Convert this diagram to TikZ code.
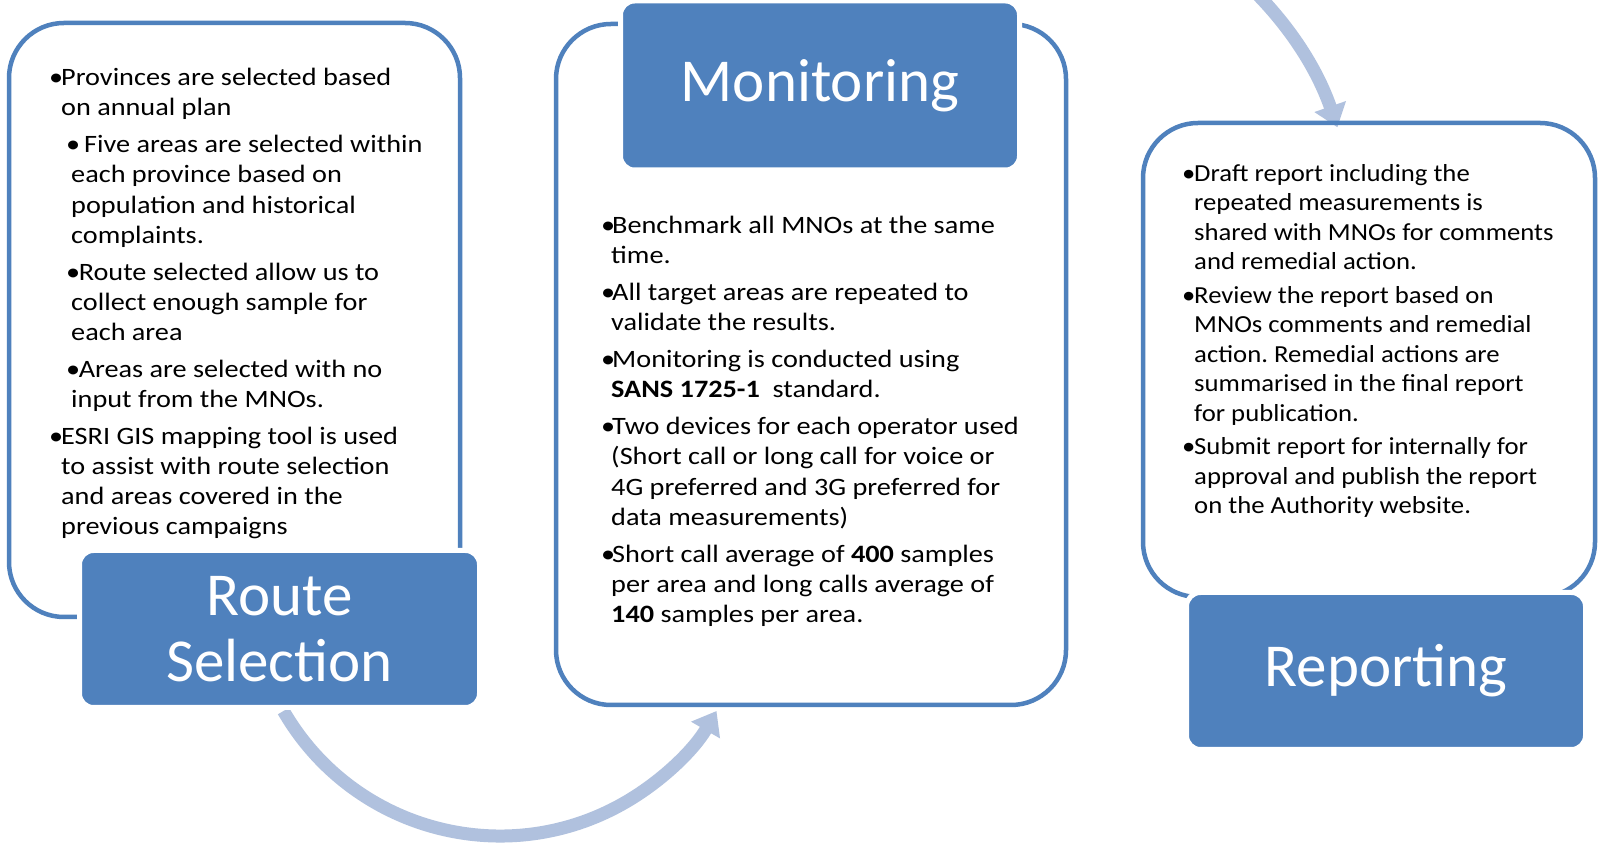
\documentclass[tikz,border=0pt]{standalone}
\usepackage{fontspec}
\setmainfont{Carlito}
\newfontfamily\bodyfont{Carlito}[FakeStretch=1.13]
\newfontfamily\rbodyfont{Carlito}[FakeStretch=1.09]
\usetikzlibrary{arrows.meta}
\definecolor{ablue}{RGB}{79,129,189}
\definecolor{arcblue}{RGB}{176,193,222}
\newcommand\bul[1]{\makebox[#1][l]{•}}
\frenchspacing
\begin{document}
\begin{tikzpicture}[x=1pt,y=1pt,
  outline/.style={draw=ablue, line width=4.5pt, rounded corners=55pt},
  head/.style={fill=ablue, draw=white, line width=5pt, rounded corners=14pt,
    text=white, font=\fontsize{61}{66}\selectfont, align=center},
  body/.style={anchor=base west, inner sep=0pt, font=\bodyfont\fontsize{25}{30.2}\selectfont},
  flow/.style={draw=arcblue, line width=13pt, -{Triangle[width=32pt,length=22pt]}}
]
\useasboundingbox (0,0) rectangle (1600,843);
\clip (0,0) rectangle (1600,843);
\fill[white] (0,0) rectangle (1600,843);

% connector arcs
\coordinate (c1) at (500,257);
\coordinate (c2) at (988,594);
\draw[flow] ([shift={(210:250)}]c1) arc[start angle=210,end angle=330,radius=250];
\draw[flow] ([shift={(62:370)}]c2) arc[start angle=62,end angle=19.2,radius=370];

% white outline boxes
\node[outline, minimum width=451pt, minimum height=594pt] (rsbox) at (234.5,523) {};
\node[outline, minimum width=510pt, minimum height=681pt] (mobox) at (811,478.5) {};
\node[outline, minimum width=452pt, minimum height=474pt] (rpbox) at (1369,483) {};

% blue heading boxes
\node[head, minimum width=400pt, minimum height=157pt] (rs) at (279.5,214) {Route\\Selection};
\node[head, minimum width=399pt, minimum height=169pt] (mo) at (820,757.5) {Monitoring};
\node[head, minimum width=399pt, minimum height=157pt] (rp) at (1386,172) {Reporting};

% body texts
\node[body] (rstext) at (49,757.3) {\begin{minipage}[t]{450pt}\parindent=0pt\parskip=6.6pt
{\hangindent=12pt\hangafter=1\noindent\bul{12pt}Provinces are selected based\\on annual plan\par}
{\hangindent=22pt\hangafter=1\noindent\hspace*{17pt}\bul{18pt}Five areas are selected within\\each province based on\\population and historical\\complaints.\par}
{\hangindent=22pt\hangafter=1\noindent\hspace*{17pt}\bul{12.6pt}Route selected allow us to\\collect enough sample for\\each area\par}
{\hangindent=22pt\hangafter=1\noindent\hspace*{17pt}\bul{12.6pt}Areas are selected with no\\input from the MNOs.\par}
{\hangindent=12pt\hangafter=1\noindent\bul{12pt}ESRI GIS mapping tool is used\\to assist with route selection\\and areas covered in the\\previous campaigns\par}
\end{minipage}};

\node[body] (motext) at (601,609.3) {\begin{minipage}[t]{460pt}\parindent=0pt\parskip=6.6pt
{\hangindent=10pt\hangafter=1\noindent\bul{11pt}Benchmark all MNOs at the same\\time.\par}
{\hangindent=10pt\hangafter=1\noindent\bul{11pt}All target areas are repeated to\\validate the results.\par}
{\hangindent=10pt\hangafter=1\noindent\bul{11pt}Monitoring is conducted using\\\textbf{SANS 1725-1}\ \ standard.\par}
{\hangindent=10pt\hangafter=1\noindent\bul{11pt}Two devices for each operator used\\(Short call or long call for voice or\\4G preferred and 3G preferred for\\data measurements)\par}
{\hangindent=10pt\hangafter=1\noindent\bul{11pt}Short call average of \textbf{400} samples\\per area and long calls average of\\\textbf{140} samples per area.\par}
\end{minipage}};

\node[body, font=\rbodyfont\fontsize{24.5}{29.4}\selectfont] (rptext) at (1182,661.4) {\begin{minipage}[t]{420pt}\parindent=0pt\parskip=4.3pt
{\hangindent=12pt\hangafter=1\noindent\bul{12pt}Draft report including the\\repeated measurements is\\shared with MNOs for comments\\and remedial action.\par}
{\hangindent=12pt\hangafter=1\noindent\bul{12pt}Review the report based on\\MNOs comments and remedial\\action. Remedial actions are\\summarised in the final report\\for publication.\par}
{\hangindent=12pt\hangafter=1\noindent\bul{12pt}Submit report for internally for\\approval and publish the report\\on the Authority website.\par}
\end{minipage}};
\end{tikzpicture}
\end{document}
